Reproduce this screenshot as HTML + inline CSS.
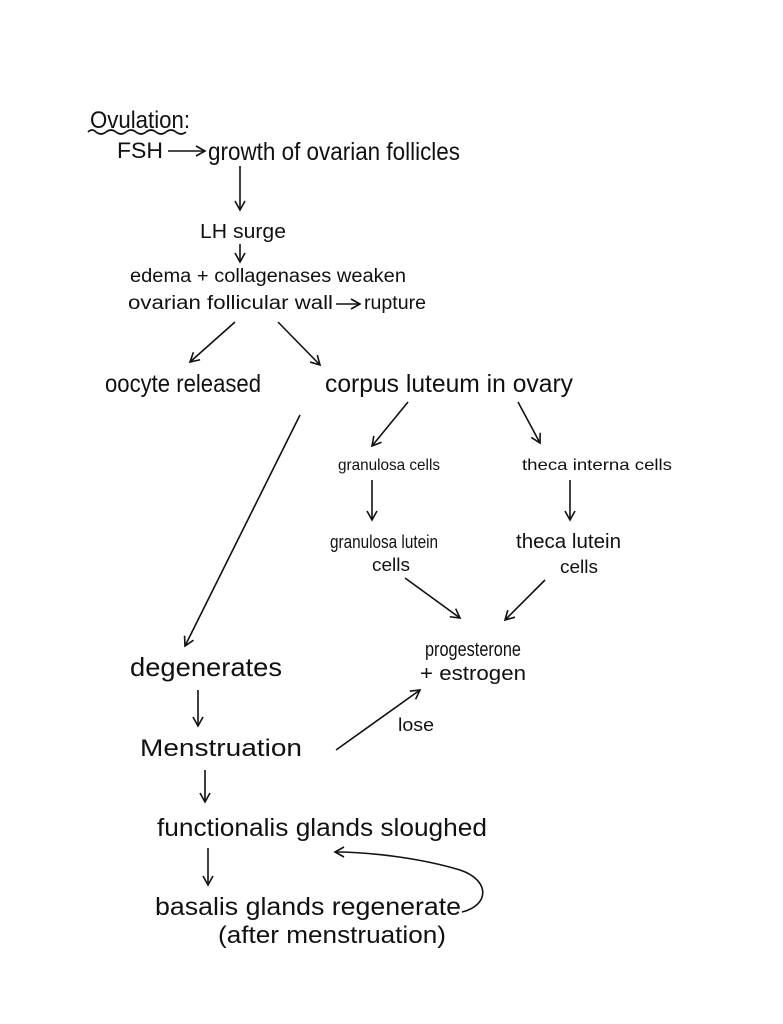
<!DOCTYPE html>
<html><head><meta charset="utf-8"><style>
html,body{margin:0;padding:0;background:#fff;}
svg{display:block;}
text{font-family:"Liberation Sans",sans-serif;fill:#111;}
</style></head><body>
<svg width="783" height="1024" viewBox="0 0 783 1024" xmlns="http://www.w3.org/2000/svg">
<defs><marker id="a" markerWidth="12" markerHeight="12" refX="10" refY="6" orient="auto" markerUnits="userSpaceOnUse"><path d="M1,1 L10,6 L1,11" fill="none" stroke="#111" stroke-width="1.6"/></marker></defs>
<g stroke="#111" stroke-width="1.6" fill="none">
<path d="M88,132 q4,-4 8,0 q5,4 10,0 q5,-4 10,0 q5,4 10,0 q5,-4 10,0 q5,4 10,0 q5,-4 10,0 q5,4 10,0 q5,-4 10,0 q5,4 10,0"/>
<line x1="168" y1="151" x2="205" y2="151" marker-end="url(#a)"/>
<line x1="240" y1="166" x2="240" y2="210" marker-end="url(#a)"/>
<line x1="240" y1="244" x2="240" y2="262" marker-end="url(#a)"/>
<line x1="336" y1="304" x2="360" y2="304" marker-end="url(#a)"/>
<line x1="235" y1="322" x2="190" y2="362" marker-end="url(#a)"/>
<line x1="278" y1="322" x2="320" y2="365" marker-end="url(#a)"/>
<line x1="300" y1="415" x2="185" y2="646" marker-end="url(#a)"/>
<line x1="408" y1="402" x2="372" y2="446" marker-end="url(#a)"/>
<line x1="518" y1="402" x2="540" y2="443" marker-end="url(#a)"/>
<line x1="372" y1="480" x2="372" y2="520" marker-end="url(#a)"/>
<line x1="570" y1="480" x2="570" y2="520" marker-end="url(#a)"/>
<line x1="405" y1="578" x2="460" y2="618" marker-end="url(#a)"/>
<line x1="545" y1="580" x2="505" y2="620" marker-end="url(#a)"/>
<line x1="198" y1="690" x2="198" y2="726" marker-end="url(#a)"/>
<line x1="336" y1="750" x2="420" y2="690" marker-end="url(#a)"/>
<line x1="205" y1="770" x2="205" y2="802" marker-end="url(#a)"/>
<line x1="208" y1="848" x2="208" y2="885" marker-end="url(#a)"/>
<path d="M462,912 C490,905 490,880 460,870 C420,858 370,852 335,852" marker-end="url(#a)"/>
</g>
<text x="90" y="128" font-size="24" textLength="100" lengthAdjust="spacingAndGlyphs">Ovulation:</text>
<text x="117" y="158" font-size="22" textLength="46" lengthAdjust="spacingAndGlyphs">FSH</text>
<text x="208" y="160" font-size="25" textLength="252" lengthAdjust="spacingAndGlyphs">growth of ovarian follicles</text>
<text x="200" y="238" font-size="20" textLength="86" lengthAdjust="spacingAndGlyphs">LH surge</text>
<text x="130" y="282" font-size="19" textLength="276" lengthAdjust="spacingAndGlyphs">edema + collagenases weaken</text>
<text x="128" y="309" font-size="19" textLength="205" lengthAdjust="spacingAndGlyphs">ovarian follicular wall</text>
<text x="364" y="309" font-size="19" textLength="62" lengthAdjust="spacingAndGlyphs">rupture</text>
<text x="105" y="392" font-size="25" textLength="156" lengthAdjust="spacingAndGlyphs">oocyte released</text>
<text x="325" y="392" font-size="25" textLength="248" lengthAdjust="spacingAndGlyphs">corpus luteum in ovary</text>
<text x="338" y="470" font-size="16" textLength="102" lengthAdjust="spacingAndGlyphs">granulosa cells</text>
<text x="522" y="470" font-size="16" textLength="150" lengthAdjust="spacingAndGlyphs">theca interna cells</text>
<text x="330" y="548" font-size="18" textLength="108" lengthAdjust="spacingAndGlyphs">granulosa lutein</text>
<text x="372" y="571" font-size="18" textLength="38" lengthAdjust="spacingAndGlyphs">cells</text>
<text x="516" y="548" font-size="20" textLength="105" lengthAdjust="spacingAndGlyphs">theca lutein</text>
<text x="560" y="573" font-size="18" textLength="38" lengthAdjust="spacingAndGlyphs">cells</text>
<text x="425" y="656" font-size="20" textLength="96" lengthAdjust="spacingAndGlyphs">progesterone</text>
<text x="420" y="680" font-size="20" textLength="106" lengthAdjust="spacingAndGlyphs">+ estrogen</text>
<text x="130" y="676" font-size="26" textLength="152" lengthAdjust="spacingAndGlyphs">degenerates</text>
<text x="140" y="756" font-size="24" textLength="162" lengthAdjust="spacingAndGlyphs">Menstruation</text>
<text x="398" y="731" font-size="18" textLength="36" lengthAdjust="spacingAndGlyphs">lose</text>
<text x="157" y="836" font-size="25" textLength="330" lengthAdjust="spacingAndGlyphs">functionalis glands sloughed</text>
<text x="155" y="915" font-size="25" textLength="306" lengthAdjust="spacingAndGlyphs">basalis glands regenerate</text>
<text x="218" y="943" font-size="24" textLength="228" lengthAdjust="spacingAndGlyphs">(after menstruation)</text>
</svg>
</body></html>
